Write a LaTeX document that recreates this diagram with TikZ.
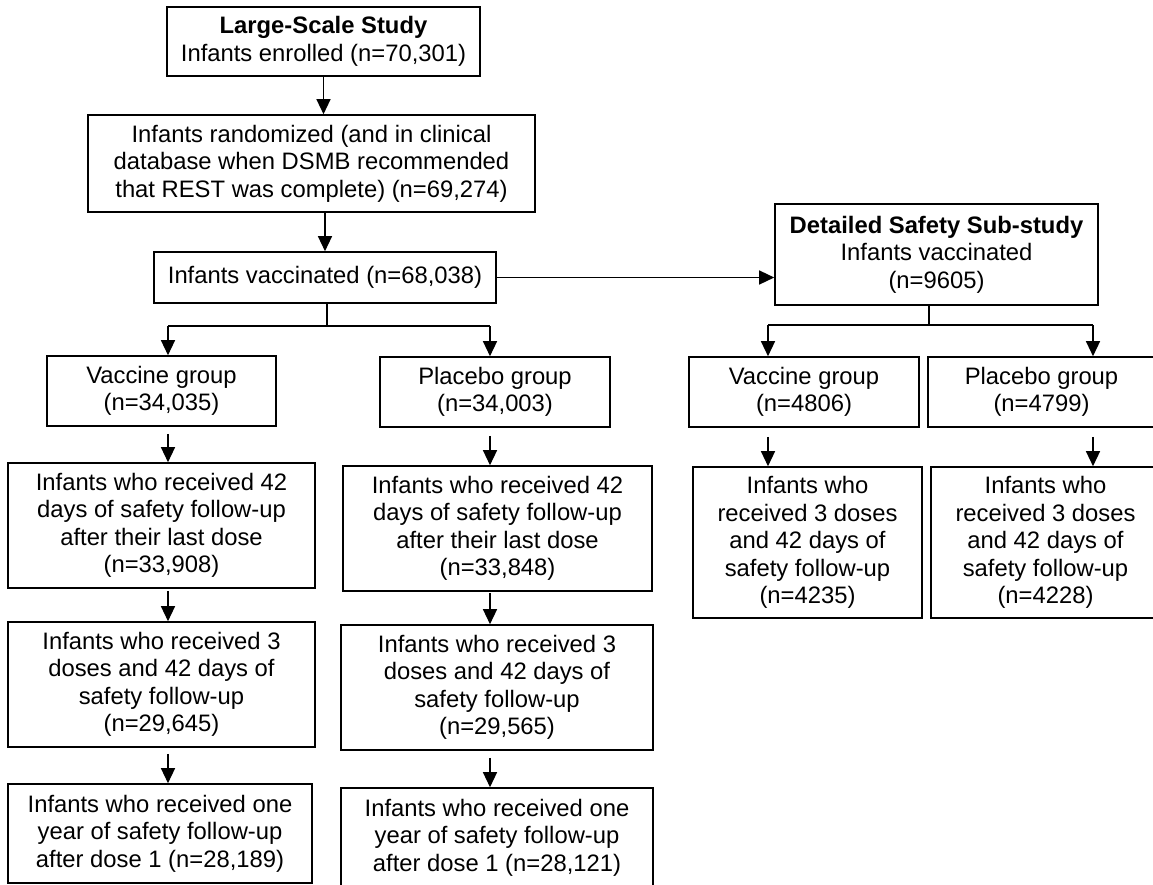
\documentclass[tikz,border=0pt]{standalone}
\usepackage{fontspec}
\setmainfont{Liberation Sans}
\usetikzlibrary{arrows.meta}
\begin{document}
\begin{tikzpicture}[x=1pt,y=-1pt,>={Triangle[length=15pt,width=14pt]},
    box/.style={draw,line width=1.6pt,align=center,inner sep=0pt,
      font=\fontsize{23.8}{27.5}\selectfont},
    link/.style={line width=1.3pt}]
			\useasboundingbox (0,0) rectangle (1153,884);
			\clip (0,0) rectangle (1153,884);
			% large-scale study
			\node[box,minimum width=313pt,minimum height=69pt] (top) at (323.5,41.5) {\textbf{Large-Scale Study}\\Infants enrolled (n=70,301)};
			\node[box,minimum width=447pt,minimum height=97pt] (rand) at (311.5,163.5) {Infants randomized (and in clinical\\database when DSMB recommended\\that REST was complete) (n=69,274)};
			\node[box,minimum width=342pt,minimum height=51pt] (vacc) at (325,277.5) {Infants vaccinated (n=68,038)};
			\node[box,minimum width=229pt,minimum height=70pt] (vg) at (161.5,391) {Vaccine group\\(n=34,035)};
			\node[box,minimum width=230pt,minimum height=70pt] (pg) at (495,392) {Placebo group\\(n=34,003)};
			\node[box,minimum width=307pt,minimum height=125pt] (v42) at (161.5,525.5) {Infants who received 42\\days of safety follow-up\\after their last dose\\(n=33,908)};
			\node[box,minimum width=309pt,minimum height=125pt] (p42) at (497.5,528.5) {Infants who received 42\\days of safety follow-up\\after their last dose\\(n=33,848)};
			\node[box,minimum width=307pt,minimum height=125pt] (v3d) at (161.5,684.5) {Infants who received 3\\doses and 42 days of\\safety follow-up\\(n=29,645)};
			\node[box,minimum width=312pt,minimum height=125pt] (p3d) at (497,687.5) {Infants who received 3\\doses and 42 days of\\safety follow-up\\(n=29,565)};
			\node[box,minimum width=304pt,minimum height=99pt] (v1y) at (160,833.5) {Infants who received one\\year of safety follow-up\\after dose 1 (n=28,189)};
			\node[box,minimum width=312pt,minimum height=99pt] (p1y) at (497,837.5) {Infants who received one\\year of safety follow-up\\after dose 1 (n=28,121)};
			% sub-study
			\node[box,minimum width=323pt,minimum height=101pt] (sub) at (936.5,254.5) {\textbf{Detailed Safety Sub-study}\\Infants vaccinated\\(n=9605)};
			\node[box,minimum width=230pt,minimum height=70pt] (svg) at (804,392) {Vaccine group\\(n=4806)};
			\node[box,minimum width=227pt,minimum height=70pt] (spg) at (1041.5,392) {Placebo group\\(n=4799)};
			\node[box,minimum width=229pt,minimum height=151pt] (sv3) at (807.5,542.5) {Infants who\\received 3 doses\\and 42 days of\\safety follow-up\\(n=4235)};
			\node[box,minimum width=229pt,minimum height=151pt] (sp3) at (1045.5,542.5) {Infants who\\received 3 doses\\and 42 days of\\safety follow-up\\(n=4228)};
			% connectors
			\draw[link,->] (top) -- (top |- rand.north);
			\draw[link,->] (vacc |- rand.south) -- (vacc);
			\draw[link,->] (vacc.east) -- (vacc.east -| sub.west);
			\coordinate (vj) at (327,326);
			\coordinate (vx) at (168,0);
			\coordinate (px) at (490,0);
			\draw[link] (vacc.south -| vj) -- (vj);
			\draw[link] (vx |- vj) -- (px |- vj);
			\draw[link,->] (vx |- vj) -- (vx |- vg.north);
			\draw[link,->] (px |- vj) -- (px |- pg.north);
			\foreach \a/\b/\g in {vg/v42/7,v42/v3d/2,v3d/v1y/6}{\draw[link,->,shorten <=\g pt] (vx |- \a.south) -- (vx |- \b.north);}
			\foreach \a/\b/\g in {pg/p42/8,p42/p3d/1,p3d/p1y/7}{\draw[link,->,shorten <=\g pt] (px |- \a.south) -- (px |- \b.north);}
			\coordinate (sj) at (929,325);
			\coordinate (svx) at (768,0);
			\coordinate (spx) at (1093,0);
			\draw[link] (sub.south -| sj) -- (sj);
			\draw[link] (svx |- sj) -- (spx |- sj);
			\draw[link,->] (svx |- sj) -- (svx |- svg.north);
			\draw[link,->] (spx |- sj) -- (spx |- spg.north);
			\draw[link,->,shorten <=9pt] (svx |- svg.south) -- (svx |- sv3.north);
			\draw[link,->,shorten <=9pt] (spx |- spg.south) -- (spx |- sp3.north);
		\end{tikzpicture}
\end{document}
